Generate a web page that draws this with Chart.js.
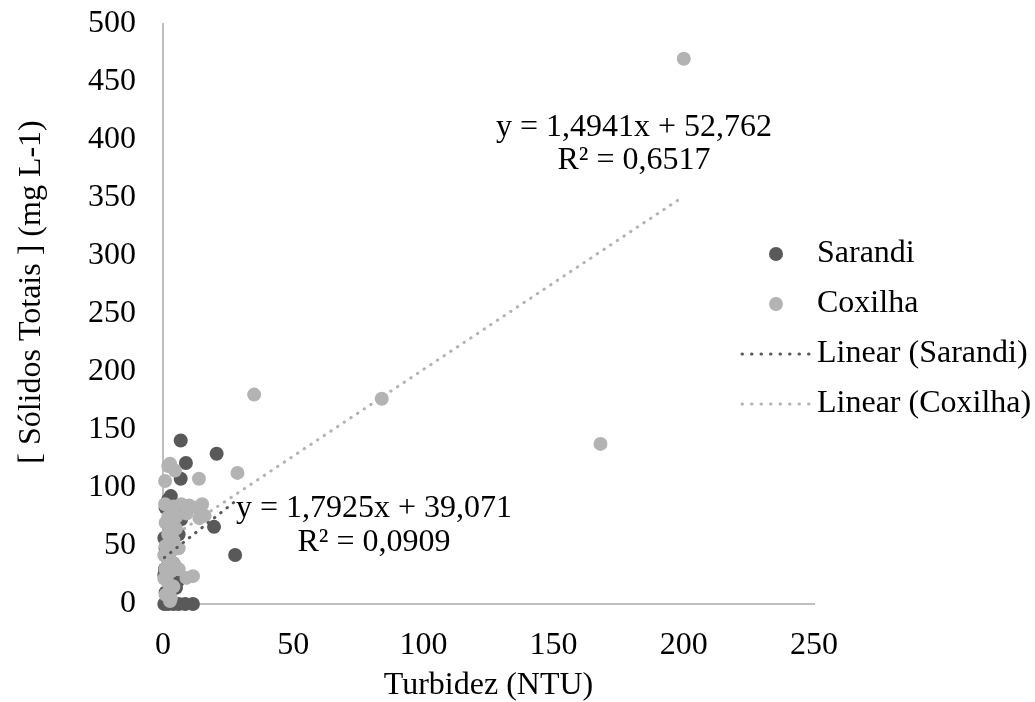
<!DOCTYPE html>
<html lang="pt">
<head>
<meta charset="UTF-8">
<title>Turbidez x Sólidos Totais</title>
<script src="https://cdn.jsdelivr.net/npm/chart.js"></script>
<style>
  html, body { margin: 0; padding: 0; background: #fff; }
  #wrap { width: 1035px; height: 702px; }
</style>
</head>
<body>
<div id="wrap"><canvas id="chart" width="1035" height="702"></canvas></div>
<script>
const sarandiX = [6.8, 20.6, 8.8, 6.8, 19.6, 27.7, 0.5, 2, 4, 6, 8.5, 11.5, 1, 5, 0.5, 1, 2, 3, 5, 7, 7.7, 1.5, 0.8, 5.8, 2, 3, 0.5, 2, 4, 1, 6];
const sarandiY = [141, 129.5, 121.5, 108, 66.5, 42.3, 0, 0, 0, 0, 0, 0, 10, 14, 57, 83, 90, 93, 85, 73, 78, 40, 30, 20, 68, 50, 25, 5, 35, 48, 60];

const coxilhaX = [200, 84, 168, 35, 28.6, 13.8, 2, 4.6, 0.8, 2.7, 0.8, 4, 7, 10, 13, 15, 14, 16, 9, 5, 1, 3, 2, 4, 1, 3, 0.5, 2, 4, 1, 3, 5, 0.5, 2, 4, 9, 11.5, 2.7, 1, 3, 6, 2, 5, 6];
const coxilhaY = [470, 177, 138, 180.5, 113, 108, 119, 115, 106, 121, 86, 84, 86, 85, 83, 86, 74, 76, 78, 75, 70, 65, 60, 55, 50, 45, 42, 38, 35, 30, 28, 32, 22, 18, 15, 22.5, 24, 2.6, 8, 5, 30, 75, 65, 48];

// trendline end points
const trendSarandiX = [0.5, 28];
const trendSarandiY = [40, 89];
const trendCoxilhaX = [0.5, 200];
const trendCoxilhaY = [53.5, 351.5];

const eqSarandi = ['y = 1,7925x + 39,071', 'R² = 0,0909'];
const eqCoxilha = ['y = 1,4941x + 52,762', 'R² = 0,6517'];
const yTitle = '[ Sólidos Totais ] (mg L-1)';

const DARK = '#595959';
const LIGHT = '#b3b3b3';
const FONT = '"Liberation Serif", "Times New Roman", serif';
const FS = 32;

const toPoints = (xs, ys) => xs.map((x, i) => ({ x: x, y: ys[i] }));

// legend, equations and y title placed like the Excel original
const extrasPlugin = {
  id: 'extras',
  afterDraw(chart) {
    const ctx = chart.ctx;
    ctx.save();
    ctx.font = FS + 'px ' + FONT;
    ctx.fillStyle = '#000';
    ctx.textBaseline = 'middle';

    // equations
    ctx.textAlign = 'center';
    ctx.fillText(eqCoxilha[0], 634, 128);
    ctx.fillText(eqCoxilha[1], 634, 161);
    ctx.fillText(eqSarandi[0], 374, 509);
    ctx.fillText(eqSarandi[1], 374, 543);

    // y axis title
    ctx.save();
    ctx.translate(32, 292);
    ctx.rotate(-Math.PI / 2);
    ctx.fillText(yTitle, 0, 0);
    ctx.restore();

    // legend
    ctx.textAlign = 'left';
    chart.data.datasets.forEach((ds, i) => {
      const y = 254 + i * 50;
      if (ds.type === 'line') {
        ctx.strokeStyle = ds.borderColor;
        ctx.lineWidth = 3;
        ctx.lineCap = 'round';
        ctx.setLineDash([0.5, 9]);
        ctx.beginPath();
        ctx.moveTo(742, y);
        ctx.lineTo(810, y);
        ctx.stroke();
        ctx.setLineDash([]);
      } else {
        ctx.fillStyle = ds.backgroundColor;
        ctx.beginPath();
        ctx.arc(776, y, 7, 0, Math.PI * 2);
        ctx.fill();
      }
      ctx.fillStyle = '#000';
      ctx.fillText(ds.label, 817, y);
    });
    ctx.restore();
  }
};

const ctx = document.getElementById('chart').getContext('2d');
new Chart(ctx, {
  type: 'scatter',
  data: {
    datasets: [
      {
        label: 'Sarandi',
        data: toPoints(sarandiX, sarandiY),
        backgroundColor: DARK,
        borderWidth: 0,
        pointRadius: 7,
        clip: false,
        order: 4
      },
      {
        label: 'Coxilha',
        data: toPoints(coxilhaX, coxilhaY),
        backgroundColor: LIGHT,
        borderWidth: 0,
        pointRadius: 7,
        clip: false,
        order: 3
      },
      {
        type: 'line',
        label: 'Linear (Sarandi)',
        data: toPoints(trendSarandiX, trendSarandiY),
        borderColor: DARK,
        borderWidth: 3,
        borderCapStyle: 'round',
        borderDash: [0.5, 7.5],
        pointRadius: 0,
        fill: false,
        order: 1
      },
      {
        type: 'line',
        label: 'Linear (Coxilha)',
        data: toPoints(trendCoxilhaX, trendCoxilhaY),
        borderColor: LIGHT,
        borderWidth: 3,
        borderCapStyle: 'round',
        borderDash: [0.5, 7.5],
        pointRadius: 0,
        fill: false,
        order: 2
      }
    ]
  },
  options: {
    responsive: false,
    animation: false,
    layout: { padding: { left: 0, top: 24, right: 221, bottom: 0 } },
    plugins: {
      legend: { display: false },
      tooltip: { enabled: false }
    },
    scales: {
      x: {
        type: 'linear',
        min: 0,
        max: 250,
        ticks: { stepSize: 50, color: '#000', padding: 22, font: { family: FONT, size: FS } },
        grid: { display: false, drawTicks: false },
        border: { color: '#bfbfbf', width: 2 },
        title: { display: true, text: 'Turbidez (NTU)', color: '#000', padding: 0, font: { family: FONT, size: FS, lineHeight: 1.0 } },
        afterFit: s => { s.height = 98; }
      },
      y: {
        min: 0,
        max: 500,
        ticks: { stepSize: 50, color: '#000', padding: 27, font: { family: FONT, size: FS } },
        grid: { display: false, drawTicks: false },
        border: { color: '#bfbfbf', width: 2 },
        afterFit: s => { s.width = 163; s.paddingTop = 0; }
      }
    }
  },
  plugins: [extrasPlugin]
});
</script>
</body>
</html>
